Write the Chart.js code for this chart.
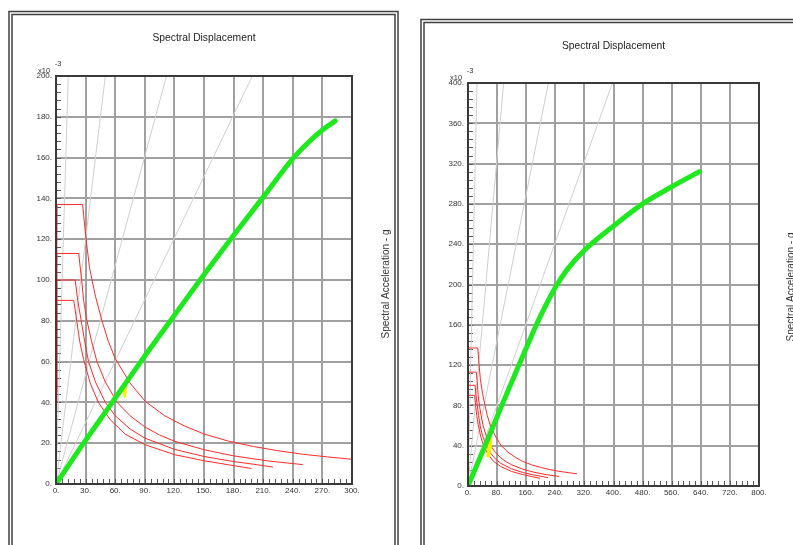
<!DOCTYPE html>
<html>
<head>
<meta charset="utf-8">
<script src="https://cdn.jsdelivr.net/npm/chart.js@4.4.1/dist/chart.umd.min.js"></script>
<style>
  html, body { margin:0; padding:0; background:#fff; }
  #wrap { position:relative; width:793px; height:545px; overflow:hidden; background:#fff; }
  #wrap canvas { position:absolute; top:0; }
  #c-left { left:0; }
  #c-right { left:410px; }
</style>
</head>
<body>
<div id="wrap">
  <canvas id="c-left" width="410" height="545"></canvas>
  <canvas id="c-right" width="383" height="545"></canvas>
</div>
<script>
// Demand spectra (same on both panels) - Sd vs Sa (x10^-3 g)
const dem1Sd = [0, 1.1, 27, 30, 34, 40, 46.6, 53, 60, 75, 90.5, 110, 130, 150, 175, 200, 225, 250, 275, 300];
const dem1Sa = [55, 137, 137, 122, 106, 92, 80, 70, 61.5, 49.5, 40.5, 33.5, 28.5, 24.5, 21, 18.4, 16.3, 14.6, 13.3, 12.1];
const dem2Sd = [0, 0.9, 23, 26, 28, 31.4, 36, 41.5, 50, 62, 75, 90, 105, 120, 150, 180, 215, 250];
const dem2Sa = [45, 113, 113, 100, 90, 80, 70, 60, 50, 40, 33.5, 28, 24, 21, 16.8, 13.8, 11.3, 9.5];
const dem3Sd = [0, 0.8, 19.5, 22, 25.6, 29, 33, 40, 50, 60, 75, 90, 120, 150, 180, 200, 220];
const dem3Sa = [40, 100, 100, 90, 80, 70, 60, 50, 40, 33.5, 27, 22.5, 17, 13.5, 11, 9.7, 8.3];
const dem4Sd = [0, 0.7, 18, 21, 24, 28, 35, 43, 55, 70, 90, 120, 150, 180, 198];
const dem4Sa = [36, 90, 90, 80, 70, 61, 49, 40, 31.5, 24.5, 19.3, 14.4, 11.4, 9, 7.6];

// Capacity curves
const capLeftSd  = [0, 28, 57, 86, 116, 146, 177, 209, 240, 256, 270, 283];
const capLeftSa  = [0, 20, 40, 60, 80, 100, 120, 140, 159.5, 167.5, 173.5, 178];
const capRightSd = [0, 47, 93, 140, 165, 188, 212, 240, 273, 320, 400, 480, 560, 636];
const capRightSa = [0, 40, 80, 120, 141, 160, 178, 197, 215, 234, 258, 280, 297, 312];

// Performance point patches (yellow)
const ppLeftSd  = [67, 72.5, 71, 69];
const ppLeftSa  = [46, 48.5, 43, 41.7];
const ppRightSd = [58, 65, 66, 60, 50];
const ppRightSa = [50, 52, 40, 28, 29];

// Constant period lines: Sd where each line meets the top of the plot
const perTopLeft  = [12.4, 50, 112, 199];
const perTopRight = [24.7, 98, 221, 397];

// Axes
const xMaxLeft = 300, xStepLeft = 30, yMaxLeft = 200, yStepLeft = 20;
const xMaxRight = 800, xStepRight = 80, yMaxRight = 400, yStepRight = 40;
const MINOR_DIV = 5;

const FONT = 'Liberation Sans, Arial, Helvetica, sans-serif';
const zip = (xs, ys) => xs.map((x, i) => ({ x, y: ys[i] }));

function buildDatasets(capSd, capSa, ppSd, ppSa, perTop, yMax) {
  const ds = [];
  ds.push({ data: zip(capSd, capSa), borderColor: '#1ee81e', borderWidth: 5, cubicInterpolationMode: 'monotone', borderCapStyle: 'round' });
  ds.push({ data: zip(ppSd, ppSa), borderWidth: 0, borderColor: 'rgba(0,0,0,0)', backgroundColor: '#ffee00', fill: 'shape' });
  [[dem1Sd, dem1Sa], [dem2Sd, dem2Sa], [dem3Sd, dem3Sa], [dem4Sd, dem4Sa]].forEach(([sd, sa]) => {
    ds.push({ data: zip(sd, sa), borderColor: '#ff2a2a', borderWidth: 1 });
  });
  perTop.forEach(x => {
    ds.push({ data: [{ x: 0, y: 0 }, { x, y: yMax }], borderColor: '#cfcfcf', borderWidth: 1 });
  });
  ds.forEach(d => { d.showLine = true; d.pointRadius = 0; if (d.fill === undefined) d.fill = false; });
  return ds;
}

function decorPlugin(o) {
  return {
    id: 'decor',
    beforeDatasetsDraw(chart) {
      const { ctx, chartArea: a, scales: { x, y } } = chart;
      ctx.save();
      ctx.strokeStyle = '#555';
      ctx.lineWidth = 1;
      ctx.beginPath();
      const xm = o.xStep / MINOR_DIV, ym = o.yStep / MINOR_DIV;
      for (let i = 1; i < o.xMax / xm; i++) {
        const px = Math.round(x.getPixelForValue(i * xm)) + 0.5;
        ctx.moveTo(px, a.bottom); ctx.lineTo(px, a.bottom - 5);
      }
      for (let i = 1; i < o.yMax / ym; i++) {
        const py = Math.round(y.getPixelForValue(i * ym)) + 0.5;
        ctx.moveTo(a.left, py); ctx.lineTo(a.left + 5, py);
      }
      ctx.stroke();
      ctx.restore();
    },
    afterDraw(chart) {
      const { ctx, chartArea: a } = chart;
      ctx.save();
      // plot border
      ctx.strokeStyle = '#3a3a3a';
      ctx.lineWidth = 2;
      ctx.strokeRect(a.left, a.top, a.right - a.left, a.bottom - a.top);
      // outer double frame
      const f = o.frame;
      ctx.strokeStyle = '#404040';
      ctx.lineWidth = 1.5;
      ctx.beginPath();
      ctx.moveTo(f.l, 600); ctx.lineTo(f.l, f.t);
      if (f.r) { ctx.lineTo(f.r, f.t); ctx.lineTo(f.r, 600); } else { ctx.lineTo(chart.width + 5, f.t); }
      ctx.moveTo(f.l + 3, 600); ctx.lineTo(f.l + 3, f.t + 3);
      if (f.r) { ctx.lineTo(f.r - 3, f.t + 3); ctx.lineTo(f.r - 3, 600); } else { ctx.lineTo(chart.width + 5, f.t + 3); }
      ctx.stroke();
      // title
      ctx.fillStyle = '#222';
      ctx.font = '10.3px ' + FONT;
      ctx.textAlign = 'center';
      ctx.textBaseline = 'middle';
      ctx.fillText('Spectral Displacement', (a.left + a.right) / 2, o.titleY);
      // exponent
      ctx.fillStyle = '#333';
      ctx.font = '7.5px ' + FONT;
      ctx.fillText('x10', a.left - 12, a.top - 5.5);
      ctx.fillText('-3', a.left + 2, a.top - 12.5);
      // y title
      ctx.font = '10px ' + FONT;
      ctx.translate(o.yTitleX, o.yTitleY);
      ctx.rotate(-Math.PI / 2);
      ctx.fillText('Spectral Acceleration - g', 0, 0);
      ctx.restore();
    }
  };
}

function makeChart(id, o) {
  const tickFont = { family: FONT, size: 8 };
  return new Chart(document.getElementById(id), {
    type: 'scatter',
    data: { datasets: o.datasets },
    options: {
      responsive: false, maintainAspectRatio: false, animation: false, devicePixelRatio: 1,
      layout: { padding: o.padding },
      plugins: { legend: { display: false }, tooltip: { enabled: false } },
      scales: {
        x: {
          type: 'linear', min: 0, max: o.xMax, position: 'bottom',
          ticks: { stepSize: o.xStep, autoSkip: false, maxRotation: 0, padding: 2, color: '#333', font: tickFont, callback: v => v + '.' },
          grid: { color: '#a0a0a0', lineWidth: 2, drawTicks: false },
          border: { display: false },
          afterFit(s) { s.height = 20; }
        },
        y: {
          type: 'linear', min: 0, max: o.yMax,
          ticks: { stepSize: o.yStep, autoSkip: false, padding: 4, color: '#333', font: tickFont, callback: v => v + '.' },
          grid: { color: '#a0a0a0', lineWidth: 2, drawTicks: false },
          border: { display: false },
          afterFit(s) { s.width = o.yWidth; }
        }
      }
    },
    plugins: [decorPlugin(o)]
  });
}

makeChart('c-left', {
  datasets: buildDatasets(capLeftSd, capLeftSa, ppLeftSd, ppLeftSa, perTopLeft, yMaxLeft),
  xMax: xMaxLeft, xStep: xStepLeft, yMax: yMaxLeft, yStep: yStepLeft,
  padding: { left: 0, top: 76, right: 58, bottom: 41 }, yWidth: 56,
  frame: { l: 9, t: 11.5, r: 398 },
  titleY: 38.5, yTitleX: 386.7, yTitleY: 284
});

makeChart('c-right', {
  datasets: buildDatasets(capRightSd, capRightSa, ppRightSd, ppRightSa, perTopRight, yMaxRight),
  xMax: xMaxRight, xStep: xStepRight, yMax: yMaxRight, yStep: yStepRight,
  padding: { left: 0, top: 83, right: 34, bottom: 39 }, yWidth: 58,
  frame: { l: 11, t: 19.5, r: null },
  titleY: 46, yTitleX: 381, yTitleY: 287
});
</script>
</body>
</html>
